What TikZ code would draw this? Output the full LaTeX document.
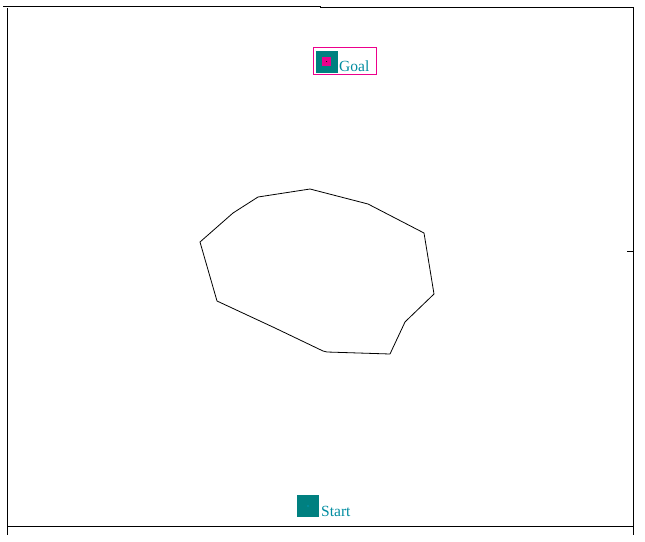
\documentclass[tikz,border=0pt]{standalone}
\usepackage{fontspec}
\setmainfont{Liberation Serif}
\usetikzlibrary{positioning}

\definecolor{cellteal}{RGB}{0,128,128}
\definecolor{labelteal}{RGB}{0,140,160}

\begin{document}
\begin{tikzpicture}[x=1pt, y=-1pt,
  cell/.style={fill=cellteal, minimum size=22pt, inner sep=0pt},
  marker/.style={fill=magenta, minimum size=9pt, inner sep=0pt},
  tag/.style={text=labelteal, font=\fontsize{15.5}{17}\selectfont, inner sep=0pt, anchor=base west},
  wall/.style={line width=0.9pt},
  obstacle/.style={line width=0.8pt, line join=round}
]
\useasboundingbox (0,0) rectangle (645,541);
% frame
\draw[wall] (3,6) -- (320,6) -- (320,7) -- (634,7);
\draw[wall] (7,8) -- (7,535);
\draw[wall] (633,8) -- (633,535);
\draw[wall] (7,526) -- (634,526);
\draw[wall] (627,251) -- (633,251);
% obstacle
\draw[obstacle] (200,242) -- (233,213) -- (258,197) -- (310,189) -- (368,204)
  -- (424,233) -- (434,294) -- (407,320) -- (405,322) -- (390,354)
  -- (327,352) -- (323,351) -- (275,328) -- (217,301) -- cycle;
% goal
\node[cell] (goal) at (326.5,61.5) {};
\node[marker] (goalmark) at (goal.center) {};
\fill (goal.center) circle (0.5pt);
\node[tag] (goallabel) at (339,71) {Goal};
\draw[magenta, line width=0.8pt] (313,47) rectangle (376,74);
% start
\node[cell] (start) at (308,506) {};
\fill[cyan] (start.center) circle (0.6pt);
\node[tag] (startlabel) at (321,516.5) {Start};
\end{tikzpicture}
\end{document}
